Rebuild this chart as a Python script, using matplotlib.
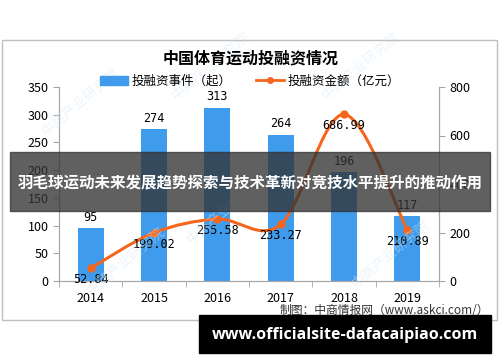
import numpy as np
import matplotlib.pyplot as plt
from matplotlib.path import Path
from matplotlib.patches import PathPatch, Rectangle
from matplotlib.lines import Line2D

plt.rcParams['font.family'] = ['Noto Sans CJK SC', 'DejaVu Sans']

years = ['2014', '2015', '2016', '2017', '2018', '2019']
events = [95, 274, 313, 264, 196, 117]
amount = [52.84, 199.02, 255.58, 233.27, 686.99, 210.89]

BLUE = '#3f9cec'
ORANGE = '#f4661b'
GREY = '#a6a6a6'

fig = plt.figure(figsize=(5, 3.62), dpi=100)

# outer chart frame
fig.patches.append(Rectangle((0.004, 1 - 320 / 362), 0.99, (320 - 40) / 362,
                             transform=fig.transFigure, fill=False,
                             edgecolor='#bfbfbf', lw=1))

ax = fig.add_axes([0.118, 1 - 281 / 362, 0.76, (281 - 87) / 362])
ax2 = ax.twinx()

x = np.arange(len(years))
ax.bar(x, events, width=0.41, color=BLUE, zorder=2)
ax.set_xlim(-0.5, len(years) - 0.5)
ax.set_ylim(0, 350)
ax.set_yticks(range(0, 351, 50))
ax.set_xticks(x)
ax.set_xticklabels(years)
ax.set_xticks(np.arange(-0.5, len(years), 1), minor=True)
ax.tick_params(axis='x', which='major', length=0, pad=8)
ax.tick_params(axis='x', which='minor', length=4, color=GREY)
ax.tick_params(axis='y', length=4, color=GREY, labelsize=9)
ax.tick_params(axis='x', labelsize=9)

for a in (ax, ax2):
    a.spines['top'].set_visible(False)
    for s in ('left', 'right', 'bottom'):
        a.spines[s].set_color(GREY)

for xi, v in zip(x, events):
    ax.text(xi, v + 8, str(v), ha='center', va='bottom', fontsize=8.5,
            family='DejaVu Sans Mono')

# smoothed line (bezier through data points)
ax2.set_ylim(0, 800)
ax2.set_yticks(range(0, 801, 200))
ax2.tick_params(axis='y', length=4, color=GREY, labelsize=9)
pts = np.column_stack([x, amount]).astype(float)
verts = [pts[0]]
codes = [Path.MOVETO]
t = 0.5
for i in range(len(pts) - 1):
    p0 = pts[i - 1] if i > 0 else pts[i]
    p1, p2 = pts[i], pts[i + 1]
    p3 = pts[i + 2] if i + 2 < len(pts) else pts[i + 1]
    c1 = p1 + (p2 - p0) * t / 3
    c2 = p2 - (p3 - p1) * t / 3
    verts += [c1, c2, p2]
    codes += [Path.CURVE4] * 3
ax2.add_patch(PathPatch(Path(verts, codes), fill=False, edgecolor=ORANGE,
                        lw=2.2, zorder=3))
ax2.plot(x, amount, 'o', color=ORANGE, ms=5, zorder=4)
for xi, v in zip(x, amount):
    ax2.text(xi, v - 20, f'{v:.2f}', ha='center', va='top', fontsize=8.5,
             family='DejaVu Sans Mono')

# title and legend
fig.text(0.502, 1 - 58 / 362, '中国体育运动投融资情况', ha='center', va='center',
         fontsize=11.5, fontweight='bold')
handles = [Rectangle((0, 0), 1, 1, color=BLUE),
           Line2D([], [], color=ORANGE, lw=2, marker='o', ms=4)]
fig.legend(handles, ['投融资事件（起）', '投融资金额（亿元）'], loc='center',
           bbox_to_anchor=(0.5, 1 - 81 / 362), ncol=2, frameon=False,
           fontsize=9, handlelength=2.2, columnspacing=2, handletextpad=0.3)

fig.text(0.56, 1 - 311 / 362, '制图：中商情报网（www.askci.com/）', ha='left',
         va='center', fontsize=8.5, color='#333333')

# watermarks
for wx, wy in [(0.16, 0.72), (0.42, 0.82), (0.72, 0.82),
               (0.45, 0.42), (0.78, 0.3), (0.25, 0.28)]:
    fig.text(wx, wy, '中商产业研究院', rotation=40, fontsize=10, color='#d6e8f7',
             alpha=0.45, ha='center', va='center', zorder=0)

# banner overlays
fig.patches.append(Rectangle((10 / 500, 1 - 211 / 362), 480 / 500, 59 / 362,
                             transform=fig.transFigure, color='#333333',
                             alpha=0.78, zorder=10))
fig.text(0.5, 1 - 182 / 362, '羽毛球运动未来发展趋势探索与技术革新对竞技水平提升的推动作用',
         ha='center', va='center', fontsize=11.2, fontweight='bold',
         color='white', zorder=11)
fig.patches.append(Rectangle((199 / 500, 1 - 353 / 362), 292 / 500, 38 / 362,
                             transform=fig.transFigure, color='black',
                             zorder=10))
fig.text(345 / 500, 1 - 335 / 362, 'www.officialsite-dafacaipiao.com',
         ha='center', va='center', fontsize=11.5, fontweight='bold',
         family='Open Sans', color='white', zorder=11)

fig.savefig('out.png', dpi=100)
